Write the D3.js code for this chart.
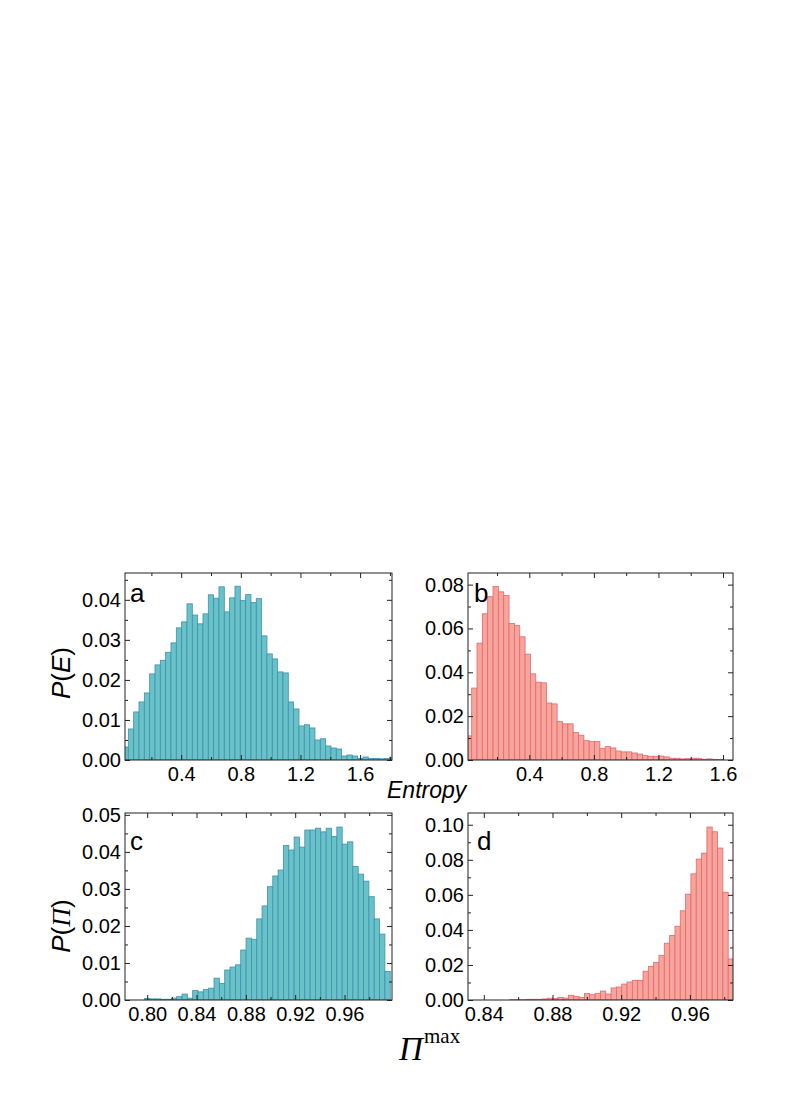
<!DOCTYPE html>
<html>
<head>
<meta charset="utf-8">
<script src="https://cdn.jsdelivr.net/npm/d3@7"></script>
<style>
  body { margin: 0; background: #fff; }
  text { font-family: "Liberation Sans", Arial, sans-serif; fill: #000; }
</style>
</head>
<body>
<script>
// Histogram heights, one value per bin
const entropyEmpirical = [0.00325, 0.00775, 0.012, 0.0145, 0.01675, 0.0215, 0.02375, 0.0249, 0.0269, 0.02925,
  0.033, 0.0345, 0.039, 0.0362, 0.034, 0.0365, 0.04125, 0.0404, 0.04325, 0.037,
  0.0405, 0.0434, 0.0398, 0.0413, 0.0393, 0.0403, 0.031, 0.0265, 0.02525, 0.022,
  0.02175, 0.0145, 0.01275, 0.0085, 0.0088, 0.008, 0.005, 0.0053, 0.0035, 0.003,
  0.00275, 0.001, 0.00125, 0.001, 0.0004, 0.00075, 0.0004, 0.0004, 0.0003, 0.0004, 0.0007];
const entropyModel = [0.011, 0.0328, 0.0533, 0.0667, 0.0745, 0.0792, 0.0767, 0.075, 0.0623, 0.0613,
  0.0562, 0.0483, 0.0393, 0.0355, 0.0352, 0.026, 0.0256, 0.0175, 0.0165, 0.0165,
  0.0125, 0.0113, 0.0088, 0.0085, 0.0085, 0.0052, 0.0061, 0.0055, 0.0041, 0.0037,
  0.0037, 0.0032, 0.0027, 0.002, 0.0017, 0.0017, 0.0018, 0.0014, 0.0008, 0.0008,
  0.0005, 0.0006, 0.0008, 0.0008, 0.0003, 0.0005, 0.0003, 0.0002, 0, 0];
const piEmpirical = [0.0004, 0.0003, 0.0003, 0.0002, 0.0002, 0.0005, 0.0009, 0.0016, 0.0005, 0.0026,
  0.0022, 0.0028, 0.0032, 0.0059, 0.0045, 0.0081, 0.0089, 0.0095, 0.0135, 0.0167,
  0.0164, 0.0219, 0.0254, 0.0306, 0.0335, 0.0351, 0.0417, 0.0405, 0.044, 0.0413,
  0.0459, 0.0459, 0.0464, 0.0454, 0.0464, 0.0442, 0.0467, 0.0421, 0.0427, 0.0361,
  0.034, 0.0321, 0.0279, 0.0219, 0.0178, 0.0077];
const piModel = [0.0002, 0.0002, 0.0002, 0.0004, 0.0004, 0.0004, 0.0006, 0.001, 0.0008, 0.0015,
  0.0011, 0.0027, 0.0021, 0.0015, 0.0038, 0.003, 0.0038, 0.0051, 0.0034, 0.0069,
  0.0074, 0.0091, 0.0103, 0.0112, 0.0112, 0.0164, 0.0192, 0.0215, 0.0255, 0.0324,
  0.0368, 0.0421, 0.0509, 0.0604, 0.072, 0.0804, 0.0838, 0.0987, 0.096, 0.0867,
  0.0615, 0.0234];

// first bin start and bin width of each histogram
const binsA = { start: 0.0095, width: 0.03577 };
const binsB = { start: 0.0096, width: 0.0331 };
const binsC = { start: 0.7979, width: 0.00433 };
const binsD = { start: 0.8552, width: 0.0031 };

// tick labels
const entropyTicks = [0.4, 0.8, 1.2, 1.6];
const entropyMinor = [0.2, 0.6, 1.0, 1.4, 1.8];
const piTicksC = [0.80, 0.84, 0.88, 0.92, 0.96];
const piTicksD = [0.84, 0.88, 0.92, 0.96];
const piMinor = [0.78, 0.82, 0.86, 0.90, 0.94, 0.98];
const yTicksA = [0, 0.01, 0.02, 0.03, 0.04];
const yTicksB = [0, 0.02, 0.04, 0.06, 0.08];
const yTicksC = [0, 0.01, 0.02, 0.03, 0.04, 0.05];
const yTicksD = [0, 0.02, 0.04, 0.06, 0.08, 0.10];

const teal = { fill: "#68c2c8", stroke: "#3f8fb0" };
const salmon = { fill: "#f6a59c", stroke: "#e8676b" };

const panels = [
  { id: "a", values: entropyEmpirical, bins: binsA, color: teal,
    box: [125, 392, 573, 760], xDomain: [0.023, 1.814], yDomain: [0, 0.0467],
    xTicks: entropyTicks, xMinor: entropyMinor, xFmt: ".1f",
    yTicks: yTicksA, yMinorStep: 0.005, letter: [130, 602] },
  { id: "b", values: entropyModel, bins: binsB, color: salmon,
    box: [468, 733, 573, 760], xDomain: [0.02, 1.662], yDomain: [0, 0.0853],
    xTicks: entropyTicks, xMinor: entropyMinor, xFmt: ".1f",
    yTicks: yTicksB, yMinorStep: 0.01, letter: [474, 602] },
  { id: "c", values: piEmpirical, bins: binsC, color: teal,
    box: [125, 392, 813, 1000], xDomain: [0.782, 0.9985], yDomain: [0, 0.0505],
    xTicks: piTicksC, xMinor: piMinor, xFmt: ".2f",
    yTicks: yTicksC, yMinorStep: 0.005, letter: [130, 850] },
  { id: "d", values: piModel, bins: binsD, color: salmon,
    box: [468, 733, 813, 1000], xDomain: [0.8308, 0.9851], yDomain: [0, 0.1067],
    xTicks: piTicksD, xMinor: piMinor, xFmt: ".2f",
    yTicks: yTicksD, yMinorStep: 0.01, letter: [477, 850] }
];

const svg = d3.select("body").append("svg")
  .attr("width", 785)
  .attr("height", 1110);

const drawPanel = (p) => {
  const [left, right, top, bottom] = p.box;
  const x = d3.scaleLinear().domain(p.xDomain).range([left, right]);
  const y = d3.scaleLinear().domain(p.yDomain).range([bottom, top]);

  svg.append("clipPath").attr("id", "clip-" + p.id)
    .append("rect")
    .attr("x", left).attr("y", top)
    .attr("width", right - left).attr("height", bottom - top);

  // bars
  const edge = i => x(p.bins.start + i * p.bins.width);
  svg.append("g")
    .attr("clip-path", `url(#clip-${p.id})`)
    .selectAll("rect")
    .data(p.values)
    .join("rect")
    .attr("x", (d, i) => edge(i))
    .attr("width", (d, i) => edge(i + 1) - edge(i))
    .attr("y", d => y(d))
    .attr("height", d => y(0) - y(d))
    .attr("fill", p.color.fill)
    .attr("stroke", p.color.stroke)
    .attr("stroke-width", 0.8);

  // minor y ticks
  const yMax = p.yDomain[1];
  const yMinor = d3.range(p.yMinorStep, yMax, p.yMinorStep * 2);
  const xMinor = p.xMinor.filter(v => v > p.xDomain[0] && v < p.xDomain[1]);

  const addAxis = (axis, tx, ty) => {
    const g = svg.append("g")
      .attr("transform", `translate(${tx},${ty})`)
      .call(axis);
    g.select(".domain").remove();
    g.selectAll("line").attr("stroke", "#222");
    g.selectAll("text")
      .style("font-family", '"Liberation Sans", Arial, sans-serif')
      .style("font-size", "20px")
      .attr("fill", "#000");
    return g;
  };

  // bottom / top
  addAxis(d3.axisBottom(x).tickValues(p.xTicks).tickSize(-5).tickPadding(7)
    .tickFormat(d3.format(p.xFmt)), 0, bottom);
  addAxis(d3.axisBottom(x).tickValues(xMinor).tickSize(-3).tickFormat(""), 0, bottom);
  addAxis(d3.axisTop(x).tickValues(p.xTicks).tickSize(-5).tickFormat(""), 0, top);
  addAxis(d3.axisTop(x).tickValues(xMinor).tickSize(-3).tickFormat(""), 0, top);
  // left / right
  addAxis(d3.axisLeft(y).tickValues(p.yTicks).tickSize(-5).tickPadding(4)
    .tickFormat(d3.format(".2f")), left, 0);
  addAxis(d3.axisLeft(y).tickValues(yMinor).tickSize(-3).tickFormat(""), left, 0);
  addAxis(d3.axisRight(y).tickValues(p.yTicks).tickSize(-5).tickFormat(""), right, 0);
  addAxis(d3.axisRight(y).tickValues(yMinor).tickSize(-3).tickFormat(""), right, 0);

  // frame
  svg.append("rect")
    .attr("x", left).attr("y", top)
    .attr("width", right - left).attr("height", bottom - top)
    .attr("fill", "none")
    .attr("stroke", "#222")
    .attr("stroke-width", 1);

  // panel letter
  svg.append("text")
    .attr("x", p.letter[0]).attr("y", p.letter[1])
    .style("font-size", "26px")
    .text(p.id);
};

panels.forEach(drawPanel);

// axis titles
svg.append("text")
  .attr("transform", "translate(70,673) rotate(-90)")
  .attr("text-anchor", "middle")
  .style("font-size", "26px")
  .html('<tspan font-style="italic">P</tspan>(<tspan font-style="italic">E</tspan>)');

svg.append("text")
  .attr("transform", "translate(70,926) rotate(-90)")
  .attr("text-anchor", "middle")
  .style("font-size", "26px")
  .html('<tspan font-style="italic">P</tspan>(<tspan font-style="italic" style="font-family:\'Liberation Serif\',serif">\u03A0</tspan>)');

svg.append("text")
  .attr("x", 387).attr("y", 798)
  .style("font-size", "23px")
  .style("font-style", "italic")
  .text("Entropy");

svg.append("text")
  .attr("x", 399).attr("y", 1060)
  .style("font-family", '"Liberation Serif", serif')
  .style("font-size", "33px")
  .style("font-style", "italic")
  .text("\u03A0");

svg.append("text")
  .attr("x", 424).attr("y", 1043)
  .style("font-family", '"Liberation Serif", serif')
  .style("font-size", "21px")
  .text("max");
</script>
</body>
</html>
